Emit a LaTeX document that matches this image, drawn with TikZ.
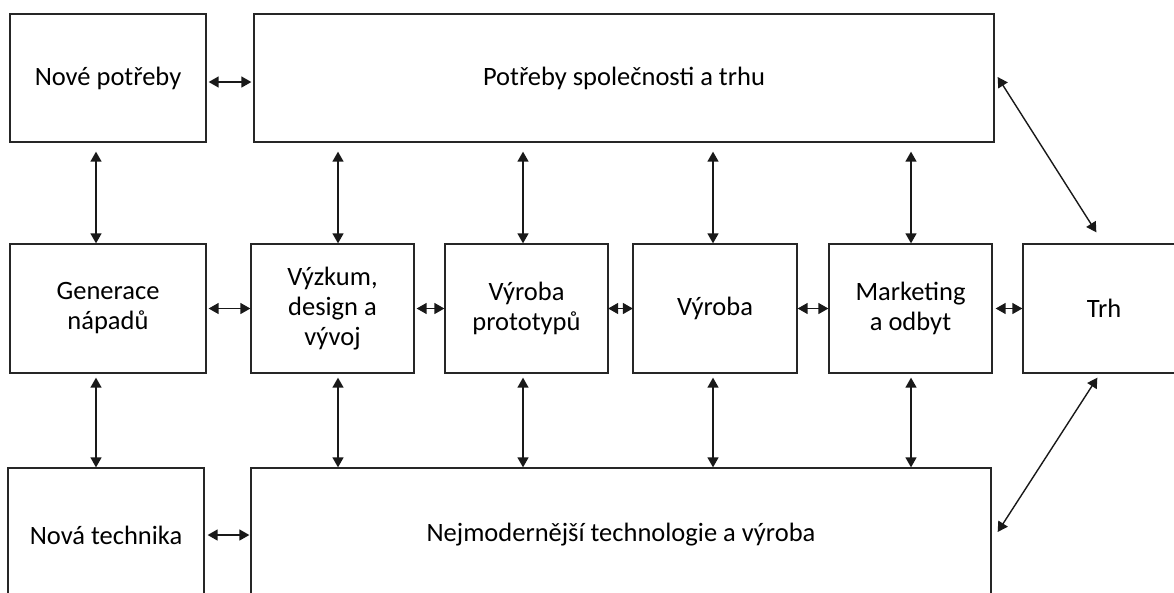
\documentclass[tikz,border=0pt]{standalone}
\usepackage{fontspec}
\setmainfont{Carlito}
\usetikzlibrary{arrows.meta}
\begin{document}
\begin{tikzpicture}[x=1pt,y=-1pt,
  box/.style={draw=black!85, line width=1.3pt, fill=white, align=center,
    inner sep=0pt, font=\fontsize{26.5}{30}\selectfont, text=black},
  arr/.style={line width=1.4pt, draw=black!90,
    {Triangle[length=10pt,width=11pt]}-{Triangle[length=10pt,width=11pt]}}]
\clip (0,0) rectangle (1174,592);
\fill[white] (0,0) rectangle (1174,592);
% columns of the vertical links
\coordinate (c1) at (96,0);
\coordinate (c2) at (338,0);
\coordinate (c3) at (523,0);
\coordinate (c4) at (713,0);
\coordinate (c5) at (911,0);
% top row
\node[box, minimum width=196pt, minimum height=128pt] (np)  at (108,78) {Nové potřeby};
\node[box, minimum width=740pt, minimum height=128pt] (pot) at (624,78) {Potřeby společnosti a trhu};
% middle row
\node[box, minimum width=196pt, minimum height=129pt] (gen) at (108,308.5) {Generace\\nápadů};
\node[box, minimum width=163pt, minimum height=129pt] (vyz) at (332.5,308.5) {Výzkum,\\design a\\vývoj};
\node[box, minimum width=163pt, minimum height=129pt] (pro) at (526.5,308.5) {Výroba\\prototypů};
\node[box, minimum width=164pt, minimum height=129pt] (vyr) at (715,308.5) {Výroba};
\node[box, minimum width=163pt, minimum height=129pt] (mkt) at (910.5,308.5) {Marketing\\a odbyt};
\node[box, minimum width=162pt, minimum height=129pt] (trh) at (1104,308.5) {Trh};
% bottom row
\node[box, minimum width=196pt, minimum height=134pt] (nt)  at (106,535) {Nová technika};
\node[box, minimum width=740pt, minimum height=134pt] (nej) at (621,535) {Nejmodernější technologie a výroba};
% horizontal links
\draw[arr] ([shift={(2pt,-4pt)}]np.east) -- ([shift={(-2pt,-4pt)}]pot.west);
\draw[arr] ([xshift=2pt]gen.east) -- (vyz.west);
\draw[arr] ([xshift=2pt]vyz.east) -- (pro.west);
\draw[arr] ([xshift=-0.5pt]pro.east) -- ([xshift=0.5pt]vyr.west);
\draw[arr] (vyr.east) -- (mkt.west);
\draw[arr] ([xshift=3pt]mkt.east) -- (trh.west);
\draw[arr] ([xshift=3pt]nt.east) -- ([xshift=-1pt]nej.west);
% vertical links, top row to middle row
\draw[arr] ([yshift=-9pt]np.south -| c1) -- (gen.north -| c1);
\draw[arr] ([yshift=-9pt]pot.south -| c2) -- (vyz.north -| c2);
\draw[arr] ([yshift=-9pt]pot.south -| c3) -- (pro.north -| c3);
\draw[arr] ([yshift=-9pt]pot.south -| c4) -- (vyr.north -| c4);
\draw[arr] ([yshift=-9pt]pot.south -| c5) -- (mkt.north -| c5);
% vertical links, middle row to bottom row
\draw[arr] ([yshift=-4pt]gen.south -| c1) -- (nt.north -| c1);
\draw[arr] ([yshift=-4pt]vyz.south -| c2) -- (nej.north -| c2);
\draw[arr] ([yshift=-4pt]pro.south -| c3) -- (nej.north -| c3);
\draw[arr] ([yshift=-4pt]vyr.south -| c4) -- (nej.north -| c4);
\draw[arr] ([yshift=-4pt]mkt.south -| c5) -- (nej.north -| c5);
% diagonal links to the market
\draw[arr] ([shift={(3pt,1pt)}]pot.east) -- ([shift={(74pt,11pt)}]trh.north west);
\draw[arr] ([shift={(75pt,-4pt)}]trh.south west) -- ([shift={(6pt,3pt)}]nej.east);
\end{tikzpicture}
\end{document}
